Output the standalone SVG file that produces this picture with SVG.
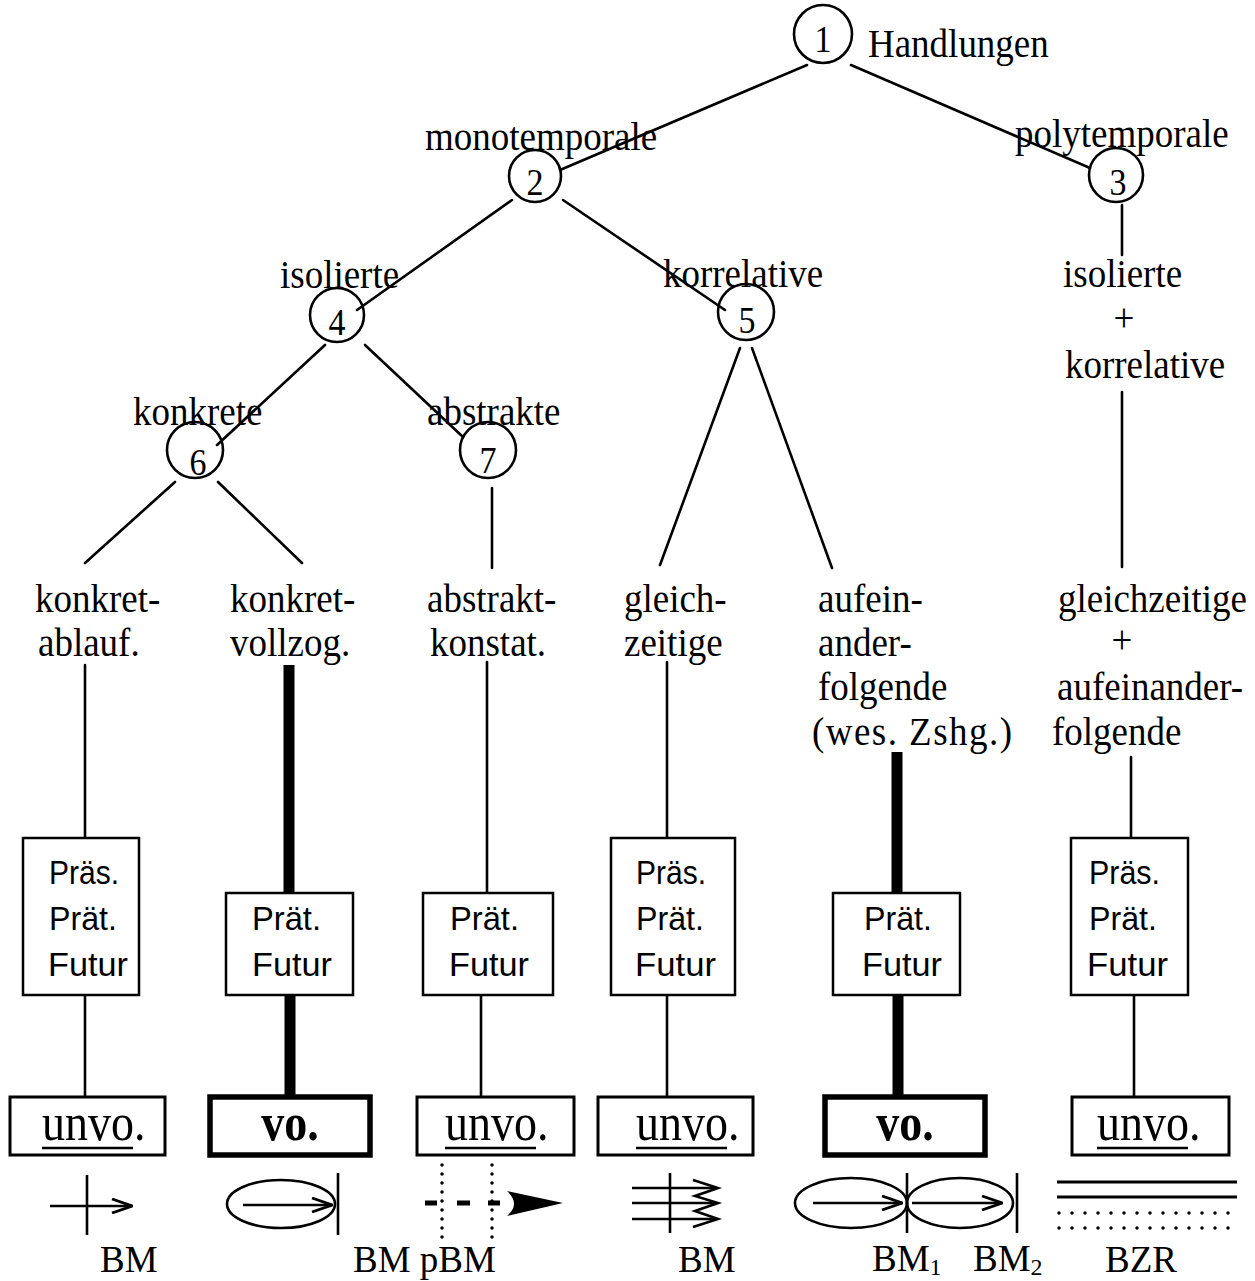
<svg xmlns="http://www.w3.org/2000/svg" width="1255" height="1281" viewBox="0 0 1255 1281">
<style>
.ln{stroke:#000;stroke-width:2.6;fill:none;stroke-linecap:round}
.tk{stroke:#000;stroke-width:11;fill:none}
.cr{stroke:#000;stroke-width:2.6;fill:none}
.lb{font-family:"Liberation Serif","Times New Roman",serif;font-size:37px;fill:#000}
.dg{font-family:"Liberation Serif","Times New Roman",serif;font-size:34px;fill:#000;text-anchor:middle}
.bx{fill:#fff;stroke:#000;stroke-width:2.5}
.bt{font-family:"Liberation Sans",Arial,sans-serif;font-size:33px;fill:#000}
.ub{fill:#fff;stroke:#000;stroke-width:3}
.vb{fill:#fff;stroke:#000;stroke-width:5.5}
.uv{font-family:"Liberation Serif","Times New Roman",serif;font-size:46px;fill:#000}
.vv{font-family:"Liberation Serif","Times New Roman",serif;font-size:46px;font-weight:bold;fill:#000;text-anchor:middle}
.ul{stroke:#000;stroke-width:2.5}
.sy{stroke:#000;stroke-width:2.6;fill:none}
.dot{stroke:#000;stroke-width:3.5;fill:none;stroke-linecap:round;stroke-dasharray:0 9}
.hdot{stroke:#000;stroke-width:3.5;fill:none;stroke-linecap:round;stroke-dasharray:0 13}
.sub{font-size:24px}
</style>
<defs>
<marker id="chev" viewBox="0 0 22 16" refX="21" refY="8" markerWidth="22" markerHeight="16" markerUnits="userSpaceOnUse" orient="auto">
<path d="M1,1 L21,8 L1,15" fill="none" stroke="#000" stroke-width="2.8"/>
</marker>
</defs>
<rect width="1255" height="1281" fill="#fff"/>

<g id="connectors">
<line class="ln" x1="807" y1="65" x2="560" y2="170"/>
<line class="ln" x1="851" y1="65" x2="1090" y2="168"/>
<line class="ln" x1="512" y1="200" x2="357" y2="310"/>
<line class="ln" x1="563" y1="200" x2="725" y2="310"/>
<line class="ln" x1="1122" y1="205" x2="1122" y2="255"/>
<line class="ln" x1="325" y1="345" x2="217" y2="445"/>
<line class="ln" x1="365" y1="345" x2="463" y2="437"/>
<line class="ln" x1="740" y1="348" x2="660" y2="565"/>
<line class="ln" x1="752" y1="348" x2="832" y2="568"/>
<line class="ln" x1="175" y1="482" x2="85" y2="563"/>
<line class="ln" x1="218" y1="482" x2="302" y2="563"/>
<line class="ln" x1="492" y1="488" x2="492" y2="568"/>
<line class="ln" x1="1122" y1="392" x2="1122" y2="567"/>
<line class="ln" x1="85" y1="665" x2="85" y2="838"/>
<line class="ln" x1="85" y1="995" x2="85" y2="1097"/>
<line class="tk" x1="289" y1="665" x2="289" y2="893"/>
<line class="tk" x1="290" y1="995" x2="290" y2="1097"/>
<line class="ln" x1="487" y1="662" x2="487" y2="893"/>
<line class="ln" x1="481" y1="995" x2="481" y2="1097"/>
<line class="ln" x1="667" y1="662" x2="667" y2="838"/>
<line class="ln" x1="667" y1="995" x2="667" y2="1097"/>
<line class="tk" x1="897" y1="752" x2="897" y2="893"/>
<line class="tk" x1="898" y1="995" x2="898" y2="1097"/>
<line class="ln" x1="1131" y1="757" x2="1131" y2="838"/>
<line class="ln" x1="1134" y1="995" x2="1134" y2="1097"/>
</g>

<g id="n1">
<circle class="cr" cx="823" cy="34" r="29"/>
<text class="dg" transform="translate(823 52) scale(1 1.1)">1</text>
<text class="lb" transform="translate(868 57) scale(1 1.1)">Handlungen</text>
</g>
<g id="n2">
<circle class="cr" cx="535" cy="176" r="26"/>
<text class="dg" transform="translate(535 195) scale(1 1.1)">2</text>
<text class="lb" transform="translate(425 150) scale(1 1.1)">monotemporale</text>
</g>
<g id="n3">
<circle class="cr" cx="1116" cy="175" r="27"/>
<text class="dg" transform="translate(1118 195) scale(1 1.1)">3</text>
<text class="lb" transform="translate(1015 147) scale(1 1.1)">polytemporale</text>
</g>
<g id="n4">
<circle class="cr" cx="337" cy="315" r="27"/>
<text class="dg" transform="translate(337 335) scale(1 1.1)">4</text>
<text class="lb" transform="translate(280 288) scale(1 1.1)">isolierte</text>
</g>
<g id="n5">
<circle class="cr" cx="746" cy="312" r="28"/>
<text class="dg" transform="translate(747 333) scale(1 1.1)">5</text>
<text class="lb" transform="translate(663 287) scale(1 1.1)">korrelative</text>
</g>
<g id="n6">
<circle class="cr" cx="195" cy="450" r="28"/>
<text class="dg" transform="translate(198 475) scale(1 1.1)">6</text>
<text class="lb" transform="translate(133 425) scale(1 1.1)">konkrete</text>
</g>
<g id="n7">
<circle class="cr" cx="488" cy="450" r="28"/>
<text class="dg" transform="translate(488 473) scale(1 1.1)">7</text>
<text class="lb" transform="translate(427 425) scale(1 1.1)">abstrakte</text>
</g>
<g id="n3-sub">
<text class="lb" transform="translate(1063 287) scale(1 1.1)">isolierte</text>
<text class="lb" text-anchor="middle" transform="translate(1124 331) scale(1 1.1)">+</text>
<text class="lb" transform="translate(1065 378) scale(1 1.1)">korrelative</text>
</g>

<g id="c1">
<text class="lb" transform="translate(35 612) scale(1 1.1)">konkret-</text>
<text class="lb" transform="translate(38 656) scale(1 1.1)">ablauf.</text>
<rect class="bx" x="23" y="838" width="116" height="157"/>
<text class="bt" x="49" y="884" textLength="70" lengthAdjust="spacingAndGlyphs">Präs.</text>
<text class="bt" x="49" y="930" textLength="68" lengthAdjust="spacingAndGlyphs">Prät.</text>
<text class="bt" x="48" y="976" textLength="80" lengthAdjust="spacingAndGlyphs">Futur</text>
<rect class="ub" x="10" y="1097" width="155" height="58"/>
<text class="uv" transform="translate(42 1140) scale(1 1.15)">unvo.</text>
<line class="ul" x1="42" y1="1148" x2="133" y2="1148"/>
<line class="sy" x1="87" y1="1175" x2="87" y2="1235"/>
<line class="sy" x1="50" y1="1206" x2="132" y2="1206" marker-end="url(#chev)"/>
<text class="lb" x="100" y="1272">BM</text>
</g>

<g id="c2">
<text class="lb" transform="translate(230 612) scale(1 1.1)">konkret-</text>
<text class="lb" transform="translate(230 656) scale(1 1.1)">vollzog.</text>
<rect class="bx" x="226" y="893" width="127" height="102"/>
<text class="bt" x="252" y="930" textLength="69" lengthAdjust="spacingAndGlyphs">Prät.</text>
<text class="bt" x="252" y="976" textLength="80" lengthAdjust="spacingAndGlyphs">Futur</text>
<rect class="vb" x="210" y="1097" width="160" height="58"/>
<text class="vv" transform="translate(290 1140) scale(1 1.15)">vo.</text>
<ellipse class="sy" cx="281" cy="1204" rx="54" ry="24"/>
<line class="sy" x1="338" y1="1173" x2="338" y2="1235"/>
<line class="sy" x1="243" y1="1205" x2="332" y2="1205" marker-end="url(#chev)"/>
</g>

<g id="c3">
<text class="lb" transform="translate(427 612) scale(1 1.1)">abstrakt-</text>
<text class="lb" transform="translate(430 656) scale(1 1.1)">konstat.</text>
<rect class="bx" x="423" y="893" width="130" height="102"/>
<text class="bt" x="450" y="930" textLength="69" lengthAdjust="spacingAndGlyphs">Prät.</text>
<text class="bt" x="449" y="976" textLength="80" lengthAdjust="spacingAndGlyphs">Futur</text>
<rect class="ub" x="417" y="1097" width="157" height="58"/>
<text class="uv" transform="translate(445 1140) scale(1 1.15)">unvo.</text>
<line class="ul" x1="445" y1="1148" x2="536" y2="1148"/>
<line class="dot" x1="442" y1="1165" x2="442" y2="1240"/>
<line class="dot" x1="492" y1="1165" x2="492" y2="1240"/>
<line stroke="#000" stroke-width="5" x1="425" y1="1203" x2="437" y2="1203"/>
<line stroke="#000" stroke-width="5" x1="457" y1="1203" x2="470" y2="1203"/>
<line stroke="#000" stroke-width="5" x1="488" y1="1203" x2="500" y2="1203"/>
<path d="M507,1191 L563,1203 L507,1216 Q521,1204 507,1191 Z" fill="#000"/>
<text class="lb" x="353" y="1272">BM pBM</text>
</g>

<g id="c4">
<text class="lb" transform="translate(624 612) scale(1 1.1)">gleich-</text>
<text class="lb" transform="translate(624 656) scale(1 1.1)">zeitige</text>
<rect class="bx" x="611" y="838" width="124" height="157"/>
<text class="bt" x="636" y="884" textLength="70" lengthAdjust="spacingAndGlyphs">Präs.</text>
<text class="bt" x="636" y="930" textLength="68" lengthAdjust="spacingAndGlyphs">Prät.</text>
<text class="bt" x="635" y="976" textLength="81" lengthAdjust="spacingAndGlyphs">Futur</text>
<rect class="ub" x="598" y="1097" width="155" height="58"/>
<text class="uv" transform="translate(636 1140) scale(1 1.15)">unvo.</text>
<line class="ul" x1="636" y1="1148" x2="727" y2="1148"/>
<line class="sy" x1="632" y1="1188" x2="716" y2="1188"/>
<line class="sy" x1="632" y1="1203" x2="716" y2="1203"/>
<line class="sy" x1="632" y1="1219" x2="716" y2="1219"/>
<line class="sy" x1="670" y1="1173" x2="670" y2="1233"/>
<polyline class="sy" points="693,1180 718,1188 695,1196 718,1203 695,1211 718,1219 693,1227"/>
<text class="lb" x="678" y="1272">BM</text>
</g>

<g id="c5">
<text class="lb" transform="translate(818 612) scale(1 1.1)">aufein-</text>
<text class="lb" transform="translate(818 656) scale(1 1.1)">ander-</text>
<text class="lb" transform="translate(818 700) scale(1 1.1)">folgende</text>
<text class="lb" transform="translate(812 745) scale(1 1.1)" textLength="200">(wes. Zshg.)</text>
<rect class="bx" x="833" y="893" width="127" height="102"/>
<text class="bt" x="864" y="930" textLength="68" lengthAdjust="spacingAndGlyphs">Prät.</text>
<text class="bt" x="862" y="976" textLength="80" lengthAdjust="spacingAndGlyphs">Futur</text>
<rect class="vb" x="825" y="1097" width="160" height="58"/>
<text class="vv" transform="translate(905 1140) scale(1 1.15)">vo.</text>
<ellipse class="sy" cx="851" cy="1203" rx="56" ry="25"/>
<ellipse class="sy" cx="960" cy="1203" rx="53" ry="25"/>
<line class="sy" x1="907" y1="1173" x2="907" y2="1233"/>
<line class="sy" x1="1017" y1="1173" x2="1017" y2="1233"/>
<line class="sy" x1="813" y1="1203" x2="902" y2="1203" marker-end="url(#chev)"/>
<line class="sy" x1="912" y1="1203" x2="1002" y2="1203" marker-end="url(#chev)"/>
<text class="lb" x="872" y="1271">BM<tspan class="sub" dy="4">1</tspan></text>
<text class="lb" x="973" y="1271">BM<tspan class="sub" dy="4">2</tspan></text>
</g>

<g id="c6">
<text class="lb" transform="translate(1058 612) scale(1 1.1)">gleichzeitige</text>
<text class="lb" text-anchor="middle" transform="translate(1122 653) scale(1 1.1)">+</text>
<text class="lb" transform="translate(1057 700) scale(1 1.1)">aufeinander-</text>
<text class="lb" transform="translate(1052 745) scale(1 1.1)">folgende</text>
<rect class="bx" x="1071" y="838" width="117" height="157"/>
<text class="bt" x="1089" y="884" textLength="71" lengthAdjust="spacingAndGlyphs">Präs.</text>
<text class="bt" x="1089" y="930" textLength="68" lengthAdjust="spacingAndGlyphs">Prät.</text>
<text class="bt" x="1087" y="976" textLength="81" lengthAdjust="spacingAndGlyphs">Futur</text>
<rect class="ub" x="1072" y="1097" width="157" height="58"/>
<text class="uv" transform="translate(1097 1140) scale(1 1.15)">unvo.</text>
<line class="ul" x1="1097" y1="1148" x2="1188" y2="1148"/>
<line stroke="#000" stroke-width="3" x1="1057" y1="1182" x2="1237" y2="1182"/>
<line stroke="#000" stroke-width="3" x1="1057" y1="1197" x2="1237" y2="1197"/>
<line class="hdot" x1="1059" y1="1213" x2="1240" y2="1213"/>
<line class="hdot" x1="1059" y1="1228" x2="1240" y2="1228"/>
<text class="lb" x="1105" y="1272">BZR</text>
</g>
</svg>
